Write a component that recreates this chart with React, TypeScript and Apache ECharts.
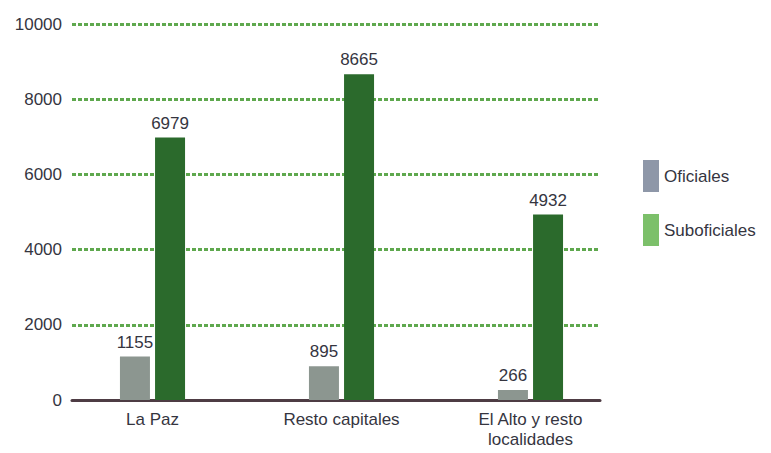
import React, { useEffect, useRef } from "react";
import * as echarts from "echarts";

const categories = ["La Paz", "Resto capitales", "El Alto y resto\nlocalidades"];
const oficiales = [1155, 895, 266];
const suboficiales = [6979, 8665, 4932];
const seriesNames = ["Oficiales", "Suboficiales"];
const yTicks = { min: 0, max: 10000, interval: 2000 };

const FONT = "'Liberation Sans', Arial, sans-serif";
const TEXT = "#35353f";

export default function App() {
  const ref = useRef<HTMLDivElement>(null);
  useEffect(() => {
    if (!ref.current) return;
    const chart = echarts.init(ref.current, undefined, { renderer: "svg" });
    chart.setOption({
      animation: false,
      backgroundColor: "#ffffff",
      textStyle: { fontFamily: FONT },
      legend: {
        orient: "vertical",
        left: 638,
        top: 155,
        itemWidth: 16,
        itemHeight: 32,
        itemGap: 22,
        icon: "rect",
        textStyle: { fontSize: 17, color: TEXT, fontFamily: FONT },
        data: [
          { name: seriesNames[0], itemStyle: { color: "#8e97a8" } },
          { name: seriesNames[1], itemStyle: { color: "#7cc06a" } },
        ],
      },
      grid: [
        { left: 72, right: 171, top: 24, bottom: 53 },
        { left: 58, right: 146, top: 24, bottom: 53 },
      ],
      xAxis: [
        {
          gridIndex: 0,
          type: "category",
          data: categories,
          axisLabel: { show: false },
          axisTick: { show: false },
          axisLine: { show: true, lineStyle: { color: "#4e3c44", width: 3 } },
        },
        {
          gridIndex: 1,
          type: "category",
          data: categories,
          axisTick: { show: false },
          axisLine: { show: false },
          axisLabel: {
            margin: 9,
            fontSize: 17,
            lineHeight: 20,
            color: TEXT,
            fontFamily: FONT,
          },
        },
      ],
      yAxis: [
        {
          gridIndex: 0,
          type: "value",
          min: yTicks.min,
          max: yTicks.max,
          interval: yTicks.interval,
          axisLine: { show: false },
          axisTick: { show: false },
          axisLabel: {
            margin: 10,
            fontSize: 17,
            color: TEXT,
            fontFamily: FONT,
            formatter: (v: number) => String(v),
          },
          splitLine: {
            show: true,
            lineStyle: { color: "#5fa84e", width: 3, type: [4, 2] },
          },
        },
        {
          gridIndex: 1,
          type: "value",
          min: yTicks.min,
          max: yTicks.max,
          interval: yTicks.interval,
          axisLine: { show: false },
          axisTick: { show: false },
          axisLabel: { show: false },
          splitLine: { show: false },
        },
      ],
      series: [
        {
          name: seriesNames[0],
          type: "bar",
          xAxisIndex: 1,
          yAxisIndex: 1,
          data: oficiales,
          barWidth: 30,
          barGap: "17%",
          itemStyle: { color: "#8c9690" },
          label: {
            show: true,
            position: "top",
            distance: 6,
            fontSize: 17,
            color: TEXT,
            fontFamily: FONT,
          },
        },
        {
          name: seriesNames[1],
          type: "bar",
          xAxisIndex: 1,
          yAxisIndex: 1,
          data: suboficiales,
          barWidth: 30,
          barGap: "17%",
          itemStyle: { color: "#2b6a2c" },
          label: {
            show: true,
            position: "top",
            distance: 6,
            fontSize: 17,
            color: TEXT,
            fontFamily: FONT,
          },
        },
      ],
    });
    return () => chart.dispose();
  }, []);
  return (
    <div
      ref={ref}
      style={{ position: "fixed", left: 0, top: 0, width: 771, height: 453 }}
    />
  );
}
